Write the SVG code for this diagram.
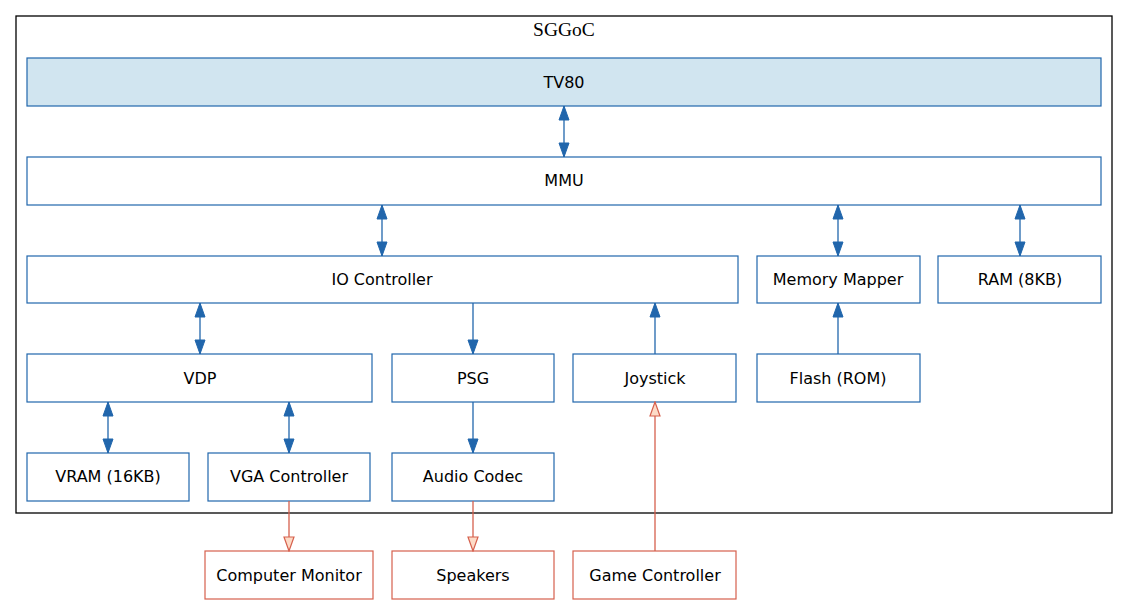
<svg xmlns="http://www.w3.org/2000/svg" width="1128" height="607" viewBox="0 0 1128 607">
<style>
.bg{fill:#fff}
.cluster{fill:none;stroke:#000;stroke-width:1.3}
.title{font-family:"Liberation Serif","Times New Roman",serif;font-size:19.5px;fill:#000;text-anchor:middle}
.n rect{fill:#fff;stroke:#2166ac;stroke-width:1.2}
.n.hi rect{fill:#d1e5f0}
.n.ext rect{stroke:#d6604d}
.n text{font-family:"DejaVu Sans","Noto Sans",sans-serif;font-size:16px;fill:#000;text-anchor:middle}
.e{stroke:#2166ac;stroke-width:1.3;fill:none}
.x{stroke:#d6604d;stroke-width:1.3;fill:none}
</style>
<defs>
<marker id="ab" markerUnits="userSpaceOnUse" markerWidth="16" markerHeight="12" refX="14" refY="5" orient="auto-start-reverse" viewBox="-1 -1 16 12">
<path d="M0,0 L14,5 L0,10 z" fill="#2166ac" stroke="#2166ac" stroke-width="1"/>
</marker>
<marker id="ar" markerUnits="userSpaceOnUse" markerWidth="16" markerHeight="12" refX="14" refY="5" orient="auto" viewBox="-1 -1 16 12">
<path d="M0,0 L14,5 L0,10 z" fill="#fddbc7" stroke="#d6604d" stroke-width="1.2"/>
</marker>
</defs>
<rect class="bg" x="0" y="0" width="1128" height="607"/>
<g id="cluster_sggoc">
<rect class="cluster" x="16" y="16" width="1096" height="497"/>
<text class="title" x="564" y="36">SGGoC</text>
</g>
<g id="tv80" class="n hi"><rect x="27" y="58" width="1074" height="48"/><text x="564" y="88">TV80</text></g>
<g id="mmu" class="n"><rect x="27" y="157" width="1074" height="48"/><text x="564" y="186">MMU</text></g>
<g id="io" class="n"><rect x="27" y="256" width="711" height="47"/><text x="382" y="285">IO Controller</text></g>
<g id="memmap" class="n"><rect x="757" y="256" width="163" height="47"/><text x="838" y="285">Memory Mapper</text></g>
<g id="ram" class="n"><rect x="938" y="256" width="163" height="47"/><text x="1020" y="285">RAM (8KB)</text></g>
<g id="vdp" class="n"><rect x="27" y="354" width="345" height="48"/><text x="200" y="384">VDP</text></g>
<g id="psg" class="n"><rect x="392" y="354" width="162" height="48"/><text x="473" y="384">PSG</text></g>
<g id="joystick" class="n"><rect x="573" y="354" width="163" height="48"/><text x="655" y="384">Joystick</text></g>
<g id="flash" class="n"><rect x="757" y="354" width="163" height="48"/><text x="838" y="384">Flash (ROM)</text></g>
<g id="vram" class="n"><rect x="27" y="453" width="162" height="48"/><text x="108" y="482">VRAM (16KB)</text></g>
<g id="vga" class="n"><rect x="208" y="453" width="162" height="48"/><text x="289" y="482">VGA Controller</text></g>
<g id="codec" class="n"><rect x="392" y="453" width="162" height="48"/><text x="473" y="482">Audio Codec</text></g>
<g id="monitor" class="n ext"><rect x="205" y="551" width="168" height="48"/><text x="289" y="581">Computer Monitor</text></g>
<g id="speakers" class="n ext"><rect x="392" y="551" width="162" height="48"/><text x="473" y="581">Speakers</text></g>
<g id="gamectl" class="n ext"><rect x="573" y="551" width="163" height="48"/><text x="655" y="581">Game Controller</text></g>
<g id="edges">
<line class="e" x1="564" y1="106" x2="564" y2="157" marker-start="url(#ab)" marker-end="url(#ab)"/>
<line class="e" x1="382" y1="205" x2="382" y2="256" marker-start="url(#ab)" marker-end="url(#ab)"/>
<line class="e" x1="838" y1="205" x2="838" y2="256" marker-start="url(#ab)" marker-end="url(#ab)"/>
<line class="e" x1="1020" y1="205" x2="1020" y2="256" marker-start="url(#ab)" marker-end="url(#ab)"/>
<line class="e" x1="200" y1="303" x2="200" y2="354" marker-start="url(#ab)" marker-end="url(#ab)"/>
<line class="e" x1="473" y1="303" x2="473" y2="354" marker-end="url(#ab)"/>
<line class="e" x1="655" y1="354" x2="655" y2="303" marker-end="url(#ab)"/>
<line class="e" x1="838" y1="354" x2="838" y2="303" marker-end="url(#ab)"/>
<line class="e" x1="108" y1="402" x2="108" y2="453" marker-start="url(#ab)" marker-end="url(#ab)"/>
<line class="e" x1="289" y1="402" x2="289" y2="453" marker-start="url(#ab)" marker-end="url(#ab)"/>
<line class="e" x1="473" y1="402" x2="473" y2="453" marker-end="url(#ab)"/>
<line class="x" x1="289" y1="501" x2="289" y2="551" marker-end="url(#ar)"/>
<line class="x" x1="473" y1="501" x2="473" y2="551" marker-end="url(#ar)"/>
<line class="x" x1="655" y1="551" x2="655" y2="402" marker-end="url(#ar)"/>
</g>
</svg>
